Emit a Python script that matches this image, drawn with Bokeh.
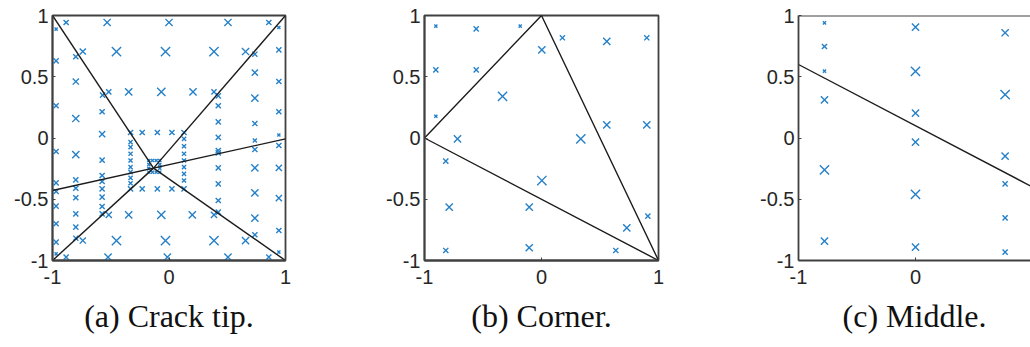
from bokeh.plotting import figure
from bokeh.layouts import row
from bokeh.models import Range1d, FixedTicker, Title, Span
from bokeh.embed import file_html
from bokeh.resources import INLINE

# ---------------- data ----------------
# (a) crack tip: subdivision lines
tip_a = (-0.133, -0.246)
corners = [(-1.0, 1.0), (1.0, 1.0), (1.0, -1.0), (-1.0, -1.0)]
crack_a_x = [-1.0, 1.0]
crack_a_y = [-0.429, -0.007]

# (a) quadrature points (x, y, weight class)
a_rows = [
    (-0.883, 0.943, 2), (-0.531, 0.943, 3), (0.000, 0.943, 3), (0.506, 0.943, 3), (0.857, 0.943, 2),
    (-0.740, 0.706, 2.5), (-0.451, 0.706, 4), (-0.030, 0.706, 4), (0.386, 0.706, 4), (0.657, 0.706, 3),
    (-0.517, 0.377, 2), (-0.346, 0.377, 3), (-0.066, 0.377, 3.5), (0.206, 0.377, 3), (0.386, 0.377, 2),
    (-0.517, -0.627, 2.5), (-0.346, -0.627, 3), (-0.066, -0.627, 3.5), (0.200, -0.627, 3), (0.386, -0.627, 2.5),
    (-0.740, -0.837, 2.5), (-0.451, -0.837, 4), (-0.030, -0.837, 4), (0.386, -0.837, 4), (0.657, -0.837, 3),
    (-0.883, -0.973, 2), (-0.523, -0.973, 3), (-0.014, -0.973, 3), (0.506, -0.973, 3), (0.857, -0.973, 2),
]
a_cols = [
    (-0.969, 0.889, 1), (-0.969, 0.630, 2), (-0.969, 0.263, 2), (-0.969, -0.110, 2), (-0.969, -0.366, 2),
    (-0.969, -0.437, 2), (-0.969, -0.556, 2), (-0.969, -0.700, 2), (-0.969, -0.850, 2), (-0.969, -0.946, 1),
    (-0.800, 0.663, 2), (-0.800, 0.461, 2.5), (-0.800, 0.159, 3), (-0.800, -0.135, 3), (-0.800, -0.342, 2),
    (-0.800, -0.410, 2), (-0.800, -0.488, 2), (-0.800, -0.619, 2), (-0.800, -0.728, 2), (-0.800, -0.818, 2),
    (-0.570, 0.350, 2), (-0.574, 0.214, 2), (-0.574, 0.031, 2.5), (-0.574, -0.180, 2), (-0.574, -0.306, 2),
    (-0.574, -0.355, 2), (-0.574, -0.415, 2), (-0.574, -0.483, 2), (-0.574, -0.559, 2), (-0.574, -0.619, 2),
    (0.423, 0.344, 2), (0.423, 0.263, 2), (0.423, 0.132, 2), (0.423, 0.005, 2), (0.423, -0.102, 2),
    (0.423, -0.121, 2), (0.423, -0.244, 2), (0.423, -0.374, 2), (0.423, -0.510, 2), (0.423, -0.605, 2),
    (0.737, 0.684, 2), (0.737, 0.534, 2.5), (0.737, 0.325, 3), (0.737, 0.118, 2), (0.737, -0.020, 1.5),
    (0.737, -0.094, 2), (0.737, -0.244, 3), (0.737, -0.448, 3), (0.737, -0.654, 3), (0.737, -0.790, 2),
    (0.943, 0.902, 1), (0.943, 0.720, 2), (0.943, 0.461, 2), (0.943, 0.214, 2), (0.943, 0.025, 1),
    (0.943, -0.061, 2), (0.943, -0.244, 2.5), (0.943, -0.491, 2.5), (0.943, -0.755, 2), (0.943, -0.932, 1),
]
a_ring = [
    (-0.330, 0.045, 2), (-0.230, 0.045, 2), (-0.100, 0.045, 2), (0.025, 0.045, 2), (0.129, 0.045, 2),
    (-0.330, -0.415, 2), (-0.230, -0.415, 2), (-0.100, -0.415, 2), (0.025, -0.415, 2), (0.129, -0.415, 2),
    (-0.330, -0.034, 1.5), (-0.330, -0.075, 1.5), (-0.330, -0.129, 1.5), (-0.330, -0.184, 1.5),
    (-0.330, -0.238, 1.5), (-0.330, -0.279, 1.5), (-0.330, -0.325, 1.5), (-0.330, -0.369, 1.5),
    (0.129, -0.007, 1.5), (0.129, -0.067, 1.5), (0.129, -0.129, 1.5), (0.129, -0.184, 1.5),
    (0.129, -0.238, 1.5), (0.129, -0.293, 1.5), (0.129, -0.347, 1.5),
]
a_box = [
    (-0.173, -0.184, 1), (-0.142, -0.184, 1), (-0.110, -0.184, 1), (-0.079, -0.184, 1),
    (-0.173, -0.279, 1), (-0.142, -0.279, 1), (-0.110, -0.279, 1), (-0.079, -0.279, 1),
    (-0.173, -0.216, 1), (-0.173, -0.247, 1), (-0.079, -0.216, 1), (-0.079, -0.247, 1),
]

# (b) corner
tri_b_x = [-1.0, 0.0, 1.0, -1.0]
tri_b_y = [0.0, 1.0, -1.0, 0.0]
b_pts = [
    (-0.903, 0.913, 1), (-0.558, 0.891, 2), (-0.182, 0.913, 1), (-0.903, 0.556, 2), (-0.558, 0.556, 2),
    (-0.903, 0.178, 1), (0.179, 0.818, 2), (0.003, 0.720, 3), (0.558, 0.788, 3), (0.900, 0.818, 2),
    (-0.333, 0.339, 4), (-0.718, -0.007, 3), (0.336, -0.007, 4), (0.558, 0.107, 3), (0.900, 0.107, 3),
    (-0.818, -0.189, 2), (0.003, -0.347, 4), (-0.789, -0.565, 3), (-0.105, -0.565, 3), (0.729, -0.733, 3),
    (0.909, -0.638, 2), (-0.818, -0.918, 2), (-0.105, -0.896, 3), (0.635, -0.918, 2),
]

# (c) middle
crack_c_x = [-1.0, 1.0]
crack_c_y = [0.600, -0.400]
c_pts = [
    (-0.778, 0.940, 1), (-0.778, 0.747, 2), (-0.778, 0.546, 1), (-0.778, 0.312, 3), (-0.778, -0.260, 4),
    (-0.778, -0.842, 3), (0.000, 0.905, 3), (0.000, 0.543, 4), (0.000, 0.203, 3), (0.000, -0.034, 3),
    (0.000, -0.461, 4), (0.000, -0.891, 3), (0.766, 0.859, 3), (0.766, 0.355, 4), (0.766, -0.148, 3),
    (0.766, -0.374, 2), (0.766, -0.652, 2), (0.766, -0.932, 2),
]

captions = ["(a) Crack tip.", "(b) Corner.", "(c) Middle."]
x_ticks = [-1, 0, 1]
y_ticks = [-1, -0.5, 0, 0.5, 1]
tick_text = {-1: "-1", -0.5: "-0.5", 0: "0", 0.5: "0.5", 1: "1"}

# ---------------- styling ----------------
BLUE = "#2580C8"
LINE = "#1c1c1c"
AXIS = "#404040"
TICK_TEXT = "#262626"


def marker_size(w):
    return 1.5 + 2.9 * w


def style_axis(ax, ticks, standoff):
    ax.ticker = FixedTicker(ticks=ticks)
    ax.major_label_overrides = {t: tick_text[t] for t in ticks}
    ax.axis_line_color = AXIS
    ax.axis_line_width = 1.8
    ax.major_tick_line_color = AXIS
    ax.major_tick_line_width = 1
    ax.major_tick_in = 3
    ax.major_tick_out = 0
    ax.minor_tick_line_color = None
    ax.major_label_text_font = "Liberation Sans"
    ax.major_label_text_color = TICK_TEXT
    ax.major_label_text_font_size = "20px"
    ax.major_label_standoff = standoff


def panel(caption, border_left, frame_w, border_right, x_end, boxed=True):
    p = figure(frame_width=frame_w, frame_height=245,
               min_border_left=border_left, min_border_right=border_right,
               min_border_top=15, min_border_bottom=87,
               x_range=Range1d(-1, x_end), y_range=Range1d(-1, 1),
               output_backend="svg", toolbar_location=None,
               background_fill_color="white", border_fill_color="white",
               outline_line_color=AXIS if boxed else None, outline_line_width=1.8)
    p.xgrid.visible = False
    p.ygrid.visible = False
    style_axis(p.xaxis[0], x_ticks, 9)
    style_axis(p.yaxis[0], y_ticks, 4)
    if not boxed:
        # open on the right: only the top edge is closed off
        p.add_layout(Span(location=1, dimension="width", line_color=AXIS, line_width=1.8))
    p.add_layout(Title(text=caption, align="center", text_font="Liberation Serif",
                       text_font_size="32px", text_font_style="normal",
                       text_color="#111111", standoff=18), "below")
    return p


def draw_points(p, pts):
    p.scatter([q[0] for q in pts], [q[1] for q in pts],
              size=[marker_size(q[2]) for q in pts],
              marker="x", line_color=BLUE, line_width=1.4)


# (a)
p1 = panel(captions[0], 52, 233, 30, 1)
draw_points(p1, a_rows + a_cols + a_ring + a_box)
p1.segment(x0=[c[0] for c in corners], y0=[c[1] for c in corners],
           x1=[tip_a[0]] * 4, y1=[tip_a[1]] * 4, line_color=LINE, line_width=1.4)
p1.line(crack_a_x, crack_a_y, line_color=LINE, line_width=1.4)

# (b)
p2 = panel(captions[1], 109, 234, 30, 1)
draw_points(p2, b_pts)
p2.line(tri_b_x, tri_b_y, line_color=LINE, line_width=1.4)

# (c) — frame runs to the page edge, just short of x = 1
p3 = panel(captions[2], 110, 232, 0, -1 + 2 * 232 / 234, boxed=False)
draw_points(p3, c_pts)
p3.line(crack_c_x, crack_c_y, line_color=LINE, line_width=1.4)

layout = row(p1, p2, p3)
open("out.html", "w").write(file_html(layout, INLINE))
